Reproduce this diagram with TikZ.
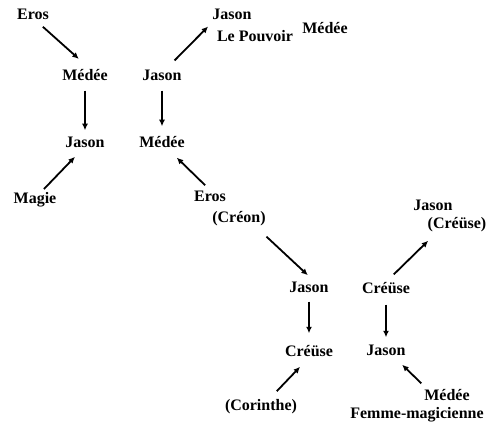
\documentclass[tikz,border=0pt]{standalone}
\usepackage{fontspec}
\setmainfont{Liberation Serif}
\usetikzlibrary{arrows.meta}
\begin{document}
\begin{tikzpicture}[x=1pt,y=-1pt,
  lbl/.style={font=\fontsize{16}{18}\selectfont\bfseries, inner sep=1.5pt, outer sep=0pt,
    text height=11pt, text depth=3.5pt},
  arr/.style={-{Latex[length=6.5pt,width=6pt]}, line width=1.8pt}]
\useasboundingbox (0,0) rectangle (488,425);
% nodes
\node[lbl] (eros1) at (33,16) {Eros};
\node[lbl] (medeeL) at (85,77) {Médée};
\node[lbl] (jasonL) at (85,144) {Jason};
\node[lbl] (magie) at (35,200) {Magie};
\node[lbl] (jasonM) at (162,77) {Jason};
\node[lbl] (medeeM) at (162,144) {Médée};
\node[lbl] (jasonT) at (232,16) {Jason};
\node[lbl] (pouvoir) at (255,38) {Le Pouvoir};
\node[lbl] (medeeTR) at (325,30) {Médée};
\node[lbl] (eros2) at (210,198) {Eros};
\node[lbl] (creon) at (239,219) {(Créon)};
\node[lbl] (jasonC) at (309,289) {Jason};
\node[lbl] (creuseC) at (309,353) {Créüse};
\node[lbl] (corinthe) at (261,407) {(Corinthe)};
\node[lbl] (creuseR) at (386,290) {Créüse};
\node[lbl] (jasonR) at (386,352) {Jason};
\node[lbl] (jasonUR) at (433,207) {Jason};
\node[lbl] (creuseUR) at (457,225) {(Créüse)};
\node[lbl] (medeeLR) at (447,397) {Médée};
\node[lbl] (femme) at (417,415) {Femme-magicienne};
% connectors
\draw[arr, shorten <=3pt, shorten >=14pt] (eros1.-49.5) -- (medeeL.64.5);
\draw[arr, shorten <=5pt, shorten >=5pt] (medeeL) -- (jasonL);
\draw[arr, shorten <=3pt, shorten >=5.6pt] (magie.52) -- (jasonL.235.9);
\draw[arr, shorten <=11pt, shorten >=4pt] (jasonM.61) -- (jasonT.200.9);
\draw[arr, shorten <=5pt, shorten >=9pt] (jasonM) -- (medeeM);
\draw[arr, shorten <=5.7pt, shorten >=7pt] (eros2.95.7) -- (medeeM.-42.6);
\draw[arr, shorten <=13pt, shorten >=7.4pt] (creon.-26.2) -- (jasonC.64);
\draw[arr, shorten <=4pt, shorten >=11pt] (jasonC) -- (creuseC);
\draw[arr, shorten <=9.7pt, shorten >=7pt] (corinthe.44) -- (creuseC.245);
\draw[arr, shorten <=9.8pt, shorten >=10pt] (creuseR.85) -- (creuseUR.202.4);
\draw[arr, shorten <=6pt, shorten >=6pt] (creuseR) -- (jasonR);
\draw[arr, shorten <=7pt, shorten >=5.7pt] (medeeLR.157.7) -- (jasonR.-36.9);
\end{tikzpicture}
\end{document}
